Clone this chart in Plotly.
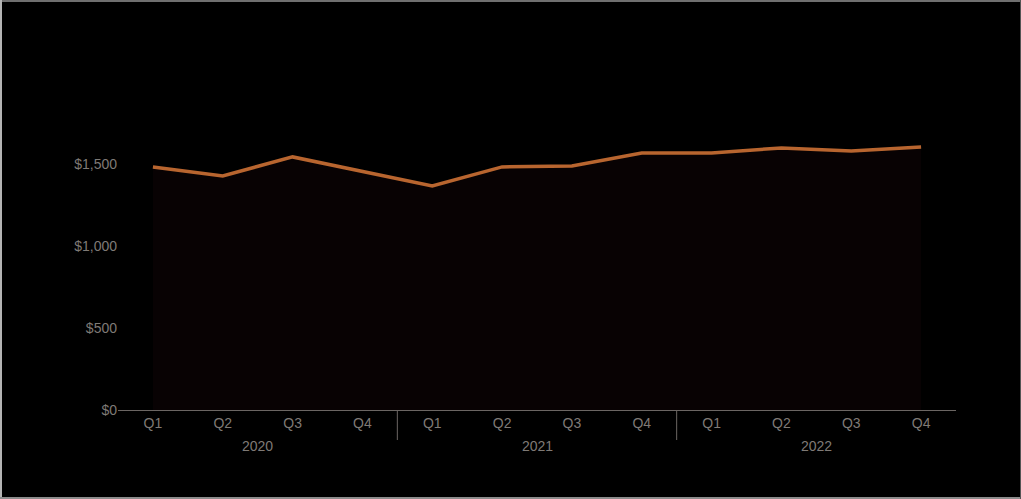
import plotly.graph_objects as go

years = ["2020", "2021", "2022"]
quarters = ["Q1", "Q2", "Q3", "Q4"]
revenue = [1482, 1427, 1543, 1457, 1366, 1482, 1488, 1567, 1567, 1598, 1579, 1604]

periods = [f"{q} {y}" for y in years for q in quarters]
quarter_labels = [q for y in years for q in quarters]

W, H = 1021, 499
L, R, T, B = 118, 65, 100, 89
pw, ph = W - L - R, H - T - B
AXIS_GREY = "#6b6663"
TEXT_GREY = "#7f7a76"

fig = go.Figure(
    go.Scatter(
        x=periods,
        y=revenue,
        mode="lines",
        line=dict(color="#b8652f", width=3.5),
        fill="tozeroy",
        fillcolor="#080203",
        hoverinfo="skip",
    )
)

# year group labels under the quarter ticks
n_q = len(quarters)
for i, y in enumerate(years):
    fig.add_annotation(
        x=i * n_q + (n_q - 1) / 2, xref="x",
        y=-36 / ph, yref="paper",
        text=y, showarrow=False, yanchor="middle",
        font=dict(size=14, color=TEXT_GREY),
    )

# dividers between years
for i in range(1, len(years)):
    fig.add_shape(
        type="line", xref="x", yref="paper",
        x0=i * n_q - 0.5, x1=i * n_q - 0.5, y0=0, y1=-30 / ph,
        line=dict(color=AXIS_GREY, width=1),
    )

# page frame: one line per edge
def px_x(p):
    return (p - L) / pw

def px_y(p):
    return (H - B - p) / ph

edges = [
    (0, 1, W, 1, "#6f6f6f", 2),          # top
    (1, 0, 1, H, "#b4b4b4", 2),          # left
    (0, H - 1, W, H - 1, "#8c8c8c", 2),  # bottom
    (W - 0.5, 0, W - 0.5, H, "#555555", 1),  # right
]
for x0, y0, x1, y1, c, w in edges:
    fig.add_shape(
        type="line", xref="paper", yref="paper",
        x0=px_x(x0), x1=px_x(x1), y0=px_y(y0), y1=px_y(y1),
        line=dict(color=c, width=w), layer="above",
    )

fig.update_layout(
    width=W, height=H,
    margin=dict(l=L, r=R, t=T, b=B),
    paper_bgcolor="#000000",
    plot_bgcolor="#000000",
    showlegend=False,
    font=dict(family="Liberation Sans, Arial, sans-serif", size=14, color=TEXT_GREY),
    xaxis=dict(
        type="category",
        tickvals=periods,
        ticktext=quarter_labels,
        showgrid=False,
        showline=True, linecolor=AXIS_GREY, linewidth=1,
        ticks="",
        tickfont=dict(size=14, color=TEXT_GREY),
        range=[-0.5, len(periods) - 0.5],
    ),
    yaxis=dict(
        range=[0, 1890],
        tickvals=[0, 500, 1000, 1500],
        ticktext=["$0", "$500", "$1,000", "$1,500"],
        showgrid=False, zeroline=False, showline=False,
        ticks="", ticklen=0,
        tickfont=dict(size=14, color=TEXT_GREY),
    ),
)

fig.write_html("out.html")
